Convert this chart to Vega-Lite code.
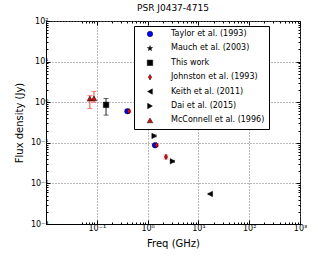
{
  "$schema": "https://vega.github.io/schema/vega-lite/v6.json",
  "width": 254,
  "height": 203,
  "autosize": {"type": "none"},
  "padding": {"left": 46, "top": 21, "right": 18, "bottom": 41},
  "background": "white",
  "title": {"text": "PSR J0437-4715", "fontSize": 9, "font": "DejaVu Sans", "fontWeight": "normal", "color": "black", "offset": 4},
  "config": {
    "view": {"stroke": "black", "strokeWidth": 1},
    "font": "DejaVu Sans"
  },
  "datasets": {
    "pts": [
      {"src": "Taylor et al. (1993)", "f": 0.4, "s": 0.6},
      {"src": "Taylor et al. (1993)", "f": 1.4, "s": 0.087},
      {"src": "Mauch et al. (2003)", "f": 0.82, "s": 0.28},
      {"src": "This work", "f": 0.152, "s": 0.86},
      {"src": "Johnston et al. (1993)", "f": 0.43, "s": 0.6},
      {"src": "Johnston et al. (1993)", "f": 1.5, "s": 0.087},
      {"src": "Johnston et al. (1993)", "f": 2.3, "s": 0.045},
      {"src": "Keith et al. (2011)", "f": 17, "s": 0.0055},
      {"src": "Dai et al. (2015)", "f": 0.73, "s": 0.36},
      {"src": "Dai et al. (2015)", "f": 1.35, "s": 0.148},
      {"src": "Dai et al. (2015)", "f": 3.1, "s": 0.035},
      {"src": "McConnell et al. (1996)", "f": 0.073, "s": 1.23},
      {"src": "McConnell et al. (1996)", "f": 0.088, "s": 1.25}
    ],
    "err": [
      {"ref": "Taylor", "f": 0.4, "lo": 0.57, "hi": 0.63},
      {"ref": "Taylor", "f": 1.4, "lo": 0.083, "hi": 0.091},
      {"ref": "Mauch", "f": 0.82, "lo": 0.25, "hi": 0.32},
      {"ref": "This work", "f": 0.152, "lo": 0.48, "hi": 1.23},
      {"ref": "Johnston", "f": 0.43, "lo": 0.56, "hi": 0.64},
      {"ref": "Johnston", "f": 1.5, "lo": 0.082, "hi": 0.092},
      {"ref": "Johnston", "f": 2.3, "lo": 0.04, "hi": 0.05},
      {"ref": "Keith", "f": 17, "lo": 0.0053, "hi": 0.0057},
      {"ref": "Dai", "f": 0.73, "lo": 0.34, "hi": 0.38},
      {"ref": "Dai", "f": 1.35, "lo": 0.14, "hi": 0.156},
      {"ref": "Dai", "f": 3.1, "lo": 0.033, "hi": 0.037},
      {"ref": "McConnell", "f": 0.073, "lo": 0.7, "hi": 1.45},
      {"ref": "McConnell", "f": 0.088, "lo": 1.0, "hi": 1.85}
    ],
    "dash": [
      {"f": 0.72, "s": 19},
      {"f": 1.38, "s": 2.1}
    ]
  },
  "layer": [
    {
      "data": {"name": "dash"},
      "mark": {"type": "tick", "orient": "horizontal", "size": 5, "thickness": 1, "color": "#999999"},
      "encoding": {
        "x": {"field": "f", "type": "quantitative", "scale": {"type": "log", "domain": [0.05, 1000]},
          "axis": {"orient": "top", "values": [0.05,0.06,0.07,0.08,0.09,0.1,0.2,0.3,0.4,0.5,0.6,0.7,0.8,0.9,1,2,3,4,5,6,7,8,9,10,20,30,40,50,60,70,80,90,100,200,300,400,500,600,700,800,900,1000],
            "labels": false, "title": null, "grid": false, "domain": false, "tickColor": "black",
            "tickSize": {"condition": {"test": "abs(log(datum.value)/LN10 - round(log(datum.value)/LN10)) < 0.001", "value": -4}, "value": -2}}},
        "y": {"field": "s", "type": "quantitative", "scale": {"type": "log", "domain": [0.001, 100]},
          "axis": {"orient": "right", "values": [0.001,0.002,0.003,0.004,0.005,0.006,0.007,0.008,0.009,0.01,0.02,0.03,0.04,0.05,0.06,0.07,0.08,0.09,0.1,0.2,0.3,0.4,0.5,0.6,0.7,0.8,0.9,1,2,3,4,5,6,7,8,9,10,20,30,40,50,60,70,80,90,100],
            "labels": false, "title": null, "grid": false, "domain": false, "tickColor": "black",
            "tickSize": {"condition": {"test": "abs(log(datum.value)/LN10 - round(log(datum.value)/LN10)) < 0.001", "value": -4}, "value": -2}}}
      }
    },
    {
      "data": {"name": "err"},
      "mark": {"type": "rule", "strokeWidth": 1},
      "encoding": {
        "x": {"field": "f", "type": "quantitative", "axis": null},
        "y": {"field": "lo", "type": "quantitative", "axis": null},
        "y2": {"field": "hi"},
        "stroke": {"field": "ref", "type": "nominal", "legend": null,
          "scale": {"domain": ["Taylor", "Mauch", "This work", "Johnston", "Keith", "Dai", "McConnell"],
            "range": ["#0000ff", "#222222", "#222222", "#ff6666", "#222222", "#222222", "#ff4444"]}}
      }
    },
    {
      "data": {"name": "err"},
      "mark": {"type": "tick", "orient": "horizontal", "size": 5, "thickness": 1},
      "encoding": {
        "x": {"field": "f", "type": "quantitative", "axis": null},
        "y": {"field": "lo", "type": "quantitative", "axis": null},
        "fill": {"field": "ref", "type": "nominal", "legend": null,
          "scale": {"domain": ["Taylor", "Mauch", "This work", "Johnston", "Keith", "Dai", "McConnell"],
            "range": ["#0000ff", "#222222", "#222222", "#ff6666", "#222222", "#222222", "#ff4444"]}}
      }
    },
    {
      "data": {"name": "err"},
      "mark": {"type": "tick", "orient": "horizontal", "size": 5, "thickness": 1},
      "encoding": {
        "x": {"field": "f", "type": "quantitative", "axis": null},
        "y": {"field": "hi", "type": "quantitative", "axis": null},
        "fill": {"field": "ref", "type": "nominal", "legend": null}
      }
    },
    {
      "data": {"name": "pts"},
      "mark": {"type": "point", "filled": true, "opacity": 1, "stroke": "black", "strokeWidth": 0.5, "size": 30},
      "encoding": {
        "x": {"field": "f", "type": "quantitative",
          "axis": {"orient": "bottom", "values": [0.05,0.06,0.07,0.08,0.09,0.1,0.2,0.3,0.4,0.5,0.6,0.7,0.8,0.9,1,2,3,4,5,6,7,8,9,10,20,30,40,50,60,70,80,90,100,200,300,400,500,600,700,800,900,1000],
            "labelExpr": "datum.value==0.1?'10⁻¹':datum.value==1?'10⁰':datum.value==10?'10¹':datum.value==100?'10²':datum.value==1000?'10³':''",
            "labelFontSize": 8, "labelColor": "black", "labelFlush": false, "labelOverlap": false, "labelPadding": 4,
            "title": "Freq (GHz)", "titleFontSize": 10, "titleFontWeight": "normal", "titleColor": "black", "titlePadding": 4,
            "domainColor": "black", "tickColor": "black",
            "tickSize": {"condition": {"test": "abs(log(datum.value)/LN10 - round(log(datum.value)/LN10)) < 0.001", "value": -4}, "value": -2},
            "grid": true, "gridColor": "#777777", "gridDash": [1, 2],
            "gridOpacity": {"condition": {"test": "abs(log(datum.value)/LN10 - round(log(datum.value)/LN10)) < 0.001", "value": 1}, "value": 0}}},
        "y": {"field": "s", "type": "quantitative",
          "axis": {"orient": "left", "values": [0.001,0.002,0.003,0.004,0.005,0.006,0.007,0.008,0.009,0.01,0.02,0.03,0.04,0.05,0.06,0.07,0.08,0.09,0.1,0.2,0.3,0.4,0.5,0.6,0.7,0.8,0.9,1,2,3,4,5,6,7,8,9,10,20,30,40,50,60,70,80,90,100],
            "labelExpr": "datum.value==100?'10²':datum.value==10?'10¹':datum.value==1?'10⁰':datum.value==0.1?'10⁻¹':datum.value==0.01?'10⁻²':datum.value==0.001?'10⁻³':''",
            "labelFontSize": 8, "labelColor": "black", "labelFlush": false, "labelOverlap": false, "labelPadding": 2,
            "title": "Flux density (Jy)", "titleFontSize": 10, "titleFontWeight": "normal", "titleColor": "black", "titlePadding": 6,
            "domainColor": "black", "tickColor": "black",
            "tickSize": {"condition": {"test": "abs(log(datum.value)/LN10 - round(log(datum.value)/LN10)) < 0.001", "value": -4}, "value": -2},
            "grid": true, "gridColor": "#777777", "gridDash": [1, 2],
            "gridOpacity": {"condition": {"test": "abs(log(datum.value)/LN10 - round(log(datum.value)/LN10)) < 0.001", "value": 1}, "value": 0}}},
        "color": {"field": "src", "type": "nominal",
          "scale": {"domain": ["Taylor et al. (1993)", "Mauch et al. (2003)", "This work", "Johnston et al. (1993)", "Keith et al. (2011)", "Dai et al. (2015)", "McConnell et al. (1996)"],
            "range": ["#0000ff", "#000000", "#000000", "#ff0000", "#000000", "#000000", "#cc1111"]},
          "legend": {"title": null, "orient": "none", "legendX": 88, "legendY": 5,
            "strokeColor": "black", "fillColor": "white", "padding": 4,
            "labelFontSize": 8, "labelFont": "DejaVu Sans", "labelColor": "black", "labelLimit": 200,
            "symbolSize": 30, "symbolStrokeColor": "black", "symbolStrokeWidth": 0.5,
            "rowPadding": 6.4, "labelOffset": 17, "symbolOffset": 8}},
        "shape": {"field": "src", "type": "nominal",
          "scale": {"domain": ["Taylor et al. (1993)", "Mauch et al. (2003)", "This work", "Johnston et al. (1993)", "Keith et al. (2011)", "Dai et al. (2015)", "McConnell et al. (1996)"],
            "range": ["circle", "M0,-1L0.2245,-0.309L0.951,-0.309L0.363,0.118L0.588,0.809L0,0.382L-0.588,0.809L-0.363,0.118L-0.951,-0.309L-0.2245,-0.309Z", "square", "M0,-1L0.6,0L0,1L-0.6,0Z", "triangle-left", "triangle-right", "triangle-up"]},
          "legend": {"title": null, "orient": "none", "legendX": 88, "legendY": 5,
            "strokeColor": "black", "fillColor": "white", "padding": 4,
            "labelFontSize": 8, "labelFont": "DejaVu Sans", "labelColor": "black", "labelLimit": 200,
            "symbolSize": 30, "symbolStrokeColor": "black", "symbolStrokeWidth": 0.5,
            "rowPadding": 6.4, "labelOffset": 17, "symbolOffset": 8}}
      }
    }
  ],
  "resolve": {"axis": {"x": "independent", "y": "independent"}}
}
